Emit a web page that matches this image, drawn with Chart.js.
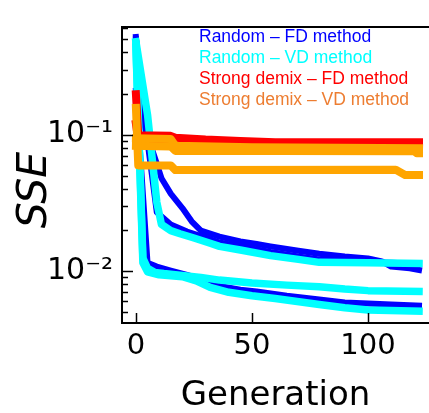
<!DOCTYPE html>
<html>
<head>
<meta charset="utf-8">
<script src="https://cdn.jsdelivr.net/npm/chart.js@4/dist/chart.umd.min.js"></script>
<style>
  html, body { margin: 0; padding: 0; background: #fff; }
  canvas { display: block; }
</style>
</head>
<body>
<canvas id="chart" width="429" height="413"></canvas>
<script>
// Random - FD method, three runs
const randFdGen1 = [0, 4, 8, 11, 15, 20, 24, 28, 36, 45, 52, 58, 70, 79, 90, 100, 106, 110, 118, 122];
const randFdSse1 = [0.52, 0.11, 0.069, 0.048, 0.037, 0.029, 0.0232, 0.0198, 0.0179, 0.0165, 0.0158, 0.0152, 0.0141, 0.0134, 0.0128, 0.0124, 0.0118, 0.0108, 0.0105, 0.0102];
const randFdGen2 = [0, 4, 9, 15, 22, 30, 36, 45, 58, 70, 79, 95, 110, 122];
const randFdSse2 = [0.5, 0.12, 0.027, 0.022, 0.0195, 0.0176, 0.0162, 0.0152, 0.0138, 0.0128, 0.0122, 0.0117, 0.0115, 0.0113];
const randFdGen3 = [0, 5, 9, 15, 22, 30, 36, 45, 52, 65, 79, 90, 100, 110, 122];
const randFdSse3 = [0.21, 0.0115, 0.0108, 0.0101, 0.0094, 0.0085, 0.0078, 0.0073, 0.0071, 0.0066, 0.0062, 0.0059, 0.0058, 0.0057, 0.0056];

// Random - VD method, three runs
const randVdGen1 = [0, 5, 9, 11, 15, 19, 25, 32, 36, 45, 58, 70, 79, 100, 122];
const randVdSse1 = [0.48, 0.14, 0.032, 0.022, 0.0198, 0.0188, 0.0175, 0.016, 0.0152, 0.0143, 0.013, 0.0122, 0.0116, 0.0115, 0.0114];
const randVdGen2 = [0, 3, 5, 8, 12, 20, 28, 36, 50, 65, 79, 90, 100, 122];
const randVdSse2 = [0.46, 0.0125, 0.0105, 0.0098, 0.0096, 0.0093, 0.009, 0.0086, 0.0082, 0.0079, 0.0077, 0.0074, 0.0072, 0.0071];
const randVdGen3 = [0, 3, 5, 10, 20, 26, 32, 40, 50, 60, 79, 90, 100, 122];
const randVdSse3 = [0.44, 0.0115, 0.0099, 0.0094, 0.0091, 0.0085, 0.0076, 0.007, 0.0066, 0.0063, 0.0057, 0.0054, 0.0052, 0.0051];

// Strong demix - FD method, two runs
const demixFdGen1 = [0, 1, 15, 17, 30, 45, 60, 122];
const demixFdSse1 = [0.198, 0.099, 0.098, 0.095, 0.092, 0.09, 0.088, 0.088];
const demixFdGen2 = [0, 1, 15, 17, 122];
const demixFdSse2 = [0.12, 0.091, 0.091, 0.083, 0.08];

// Strong demix - VD method, three runs
const demixVdGen1 = [0, 15, 17, 50, 122];
const demixVdSse1 = [0.094, 0.093, 0.083, 0.081, 0.0797];
const demixVdGen2 = [0, 15, 17, 60, 120, 121, 122];
const demixVdSse2 = [0.083, 0.082, 0.076, 0.0758, 0.0755, 0.073, 0.073];
const demixVdGen3 = [0, 1, 15, 17, 112, 116, 122];
const demixVdSse3 = [0.157, 0.0595, 0.0595, 0.055, 0.0553, 0.0506, 0.0506];

const legendLabels = ['Random – FD method', 'Random – VD method', 'Strong demix – FD method', 'Strong demix – VD method'];
const legendColors = ['#0000ff', '#00ffff', '#ff0000', '#ed7d31'];

const xTickValues = [0, 50, 100];
const yTickValues = [0.01, 0.1];
const yTickLabels = ['10⁻²', '10⁻¹'];

const toPoints = (gen, sse) => gen.map((g, i) => ({ x: g, y: sse[i] }));

const run = (gen, sse, color, width, order) => ({
  data: toPoints(gen, sse),
  borderColor: color,
  borderWidth: width,
  borderCapStyle: 'square',
  borderJoinStyle: 'round',
  pointRadius: 0,
  tension: 0,
  fill: false,
  order: order,
});

// ticks point inward, legend is plain coloured text, y label sits a bit low
const framePlugin = {
  id: 'frame',
  afterDraw(chart) {
    const { ctx, chartArea: area, scales: { x, y } } = chart;
    ctx.save();
    ctx.strokeStyle = '#000';
    ctx.lineWidth = 2;
    ctx.beginPath();
    ctx.moveTo(area.left - 1, area.top);
    ctx.lineTo(area.right, area.top);
    ctx.stroke();

    ctx.lineWidth = 1.5;
    for (let e = -3; e <= 0; e++) {
      for (let m = 1; m <= 9; m++) {
        const v = m * Math.pow(10, e);
        if (v < y.min || v > y.max) continue;
        const py = Math.round(y.getPixelForValue(v)) + 0.5;
        ctx.beginPath();
        ctx.moveTo(area.left, py);
        ctx.lineTo(area.left + (m === 1 ? 11 : 6), py);
        ctx.stroke();
      }
    }
    xTickValues.forEach(v => {
      const px = Math.round(x.getPixelForValue(v)) + 0.5;
      ctx.beginPath();
      ctx.moveTo(px, area.bottom);
      ctx.lineTo(px, area.bottom - 10);
      ctx.stroke();
    });

    ctx.font = '17.5px "Liberation Sans", Arial, sans-serif';
    ctx.textAlign = 'left';
    ctx.textBaseline = 'alphabetic';
    legendLabels.forEach((label, i) => {
      ctx.fillStyle = legendColors[i];
      ctx.fillText(label, 199, 41.5 + i * 21.2);
    });

    ctx.fillStyle = '#000';
    ctx.font = 'italic 41px "DejaVu Sans"';
    ctx.textAlign = 'center';
    ctx.translate(46, 190);
    ctx.rotate(-Math.PI / 2);
    ctx.fillText('SSE', 0, 0);
    ctx.restore();
  }
};

new Chart(document.getElementById('chart'), {
  type: 'line',
  data: {
    datasets: [
      run(randFdGen1, randFdSse1, '#0000ff', 6, 3),
      run(randFdGen2, randFdSse2, '#0000ff', 6, 3),
      run(randFdGen3, randFdSse3, '#0000ff', 6, 3),
      run(randVdGen1, randVdSse1, '#00ffff', 7.5, 2),
      run(randVdGen2, randVdSse2, '#00ffff', 7.5, 2),
      run(randVdGen3, randVdSse3, '#00ffff', 7.5, 2),
      run(demixFdGen1, demixFdSse1, '#ff0000', 8, 1),
      run(demixFdGen2, demixFdSse2, '#ff0000', 8, 1),
      run(demixVdGen1, demixVdSse1, '#ffa500', 8, 0),
      run(demixVdGen2, demixVdSse2, '#ffa500', 8, 0),
      run(demixVdGen3, demixVdSse3, '#ffa500', 8, 0),
    ],
  },
  options: {
    responsive: false,
    animation: false,
    devicePixelRatio: 1,
    layout: { padding: { top: 15, right: 0, bottom: 0, left: 0 } },
    plugins: { legend: { display: false }, tooltip: { enabled: false } },
    scales: {
      x: {
        type: 'linear',
        min: -6,
        max: 126.3,
        grid: { display: false, drawTicks: false },
        border: { display: true, color: '#000', width: 2 },
        afterBuildTicks: scale => { scale.ticks = xTickValues.map(v => ({ value: v })); },
        afterFit: scale => { scale.height = 90; },
        ticks: {
          autoSkip: false,
          maxRotation: 0,
          padding: 6,
          color: '#000',
          font: { family: '"DejaVu Sans"', size: 29 },
        },
        title: {
          display: true,
          text: 'Generation',
          color: '#000',
          padding: 0,
          font: { family: '"DejaVu Sans"', size: 34, lineHeight: 1 },
        },
      },
      y: {
        type: 'logarithmic',
        min: 0.00417,
        max: 0.615,
        grid: { display: false, drawTicks: false },
        border: { display: true, color: '#000', width: 2 },
        afterFit: scale => { scale.width = 122; },
        ticks: {
          autoSkip: false,
          padding: 9,
          color: '#000',
          font: { family: '"DejaVu Sans"', size: 30 },
          callback: value => {
            const i = yTickValues.findIndex(t => Math.abs(t - value) < t * 1e-6);
            return i >= 0 ? yTickLabels[i] : null;
          },
        },
      },
    },
  },
  plugins: [framePlugin],
});
</script>
</body>
</html>
